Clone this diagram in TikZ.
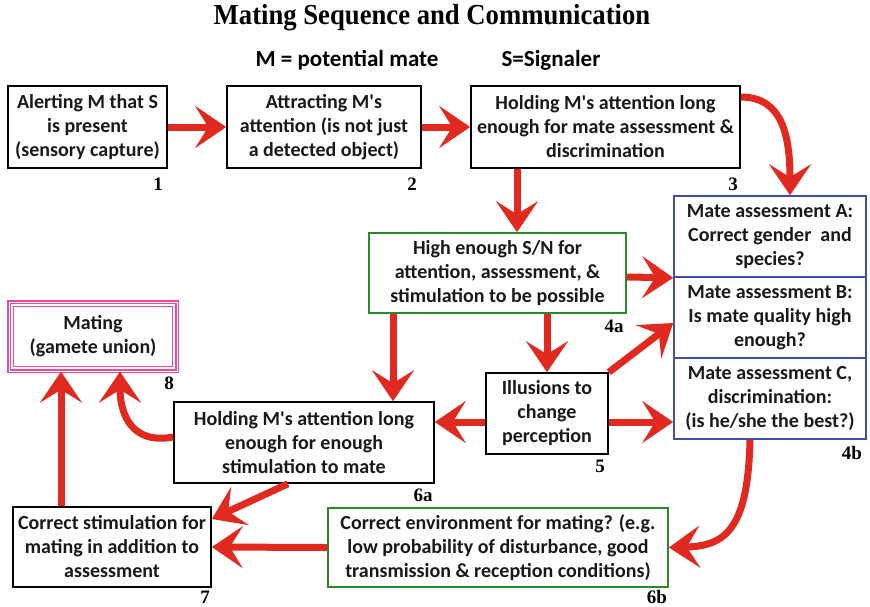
\documentclass[tikz,border=0pt]{standalone}
\usepackage{fontspec}
\setmainfont{Carlito}
\newfontfamily\titlefont{Liberation Serif}
\usetikzlibrary{arrows.meta}
\definecolor{arrred}{HTML}{E2291F}
\definecolor{boxblue}{HTML}{3F4FA8}
\definecolor{boxgreen}{HTML}{2A8A2A}
\definecolor{matepink}{HTML}{E84C9C}
\newcommand{\ap}{\textquotesingle}
\begin{document}
\begin{tikzpicture}[x=1pt,y=-1pt,
  txt/.style={font=\bfseries\fontsize{20}{24}\selectfont, align=center, text=black!90},
  box/.style={txt, draw=black, line width=1.6pt, inner sep=0pt},
  bluebox/.style={box, draw=boxblue},
  greenbox/.style={box, draw=boxgreen},
  lbl/.style={font=\titlefont\bfseries\fontsize{19}{19}\selectfont, inner sep=0pt},
  arr/.style={draw=arrred, line width=7pt, -{Stealth[length=31pt,width=42pt,inset=13pt]}}]
\useasboundingbox (0,0) rectangle (870,606);

\node[font=\titlefont\bfseries\fontsize{29}{29}\selectfont] (title) at (432,18) {\scalebox{0.92}[1]{Mating Sequence and Communication}};
\node[font=\bfseries\fontsize{23}{23}\selectfont] (sub1) at (347,60) {M = potential mate};
\node[font=\bfseries\fontsize{23}{23}\selectfont] (sub2) at (551,60) {S=Signaler};

\node[box, minimum width=159, minimum height=82] (b1) at (87.5,127) {Alerting M that S\\is present\\(sensory capture)};
\node[box, minimum width=194, minimum height=82] (b2) at (324,127) {Attracting M\ap s\\attention (is not just\\a detected object)};
\node[box, minimum width=269, minimum height=82] (b3) at (605.5,127) {Holding M\ap s attention long\\enough for mate assessment \&\\discrimination};
\node[greenbox, minimum width=257, minimum height=80] (b4a) at (497.5,273) {High enough S/N for\\attention, assessment, \&\\stimulation to be possible};
\node[bluebox, minimum width=192, minimum height=81] (bA) at (770,236.5) {Mate assessment A:\\Correct gender\ \ and\\species?};
\node[bluebox, minimum width=192, minimum height=81] (bB) at (770,317.5) {Mate assessment B:\\Is mate quality high\\enough?};
\node[bluebox, minimum width=192, minimum height=81] (bC) at (770,398.5) {Mate assessment C,\\discrimination:\\(is he/she the best?)};
\node[box, minimum width=122, minimum height=81] (b5) at (547,413.5) {Illusions to\\change\\perception};
\node[box, minimum width=260, minimum height=81] (b6a) at (304,442.5) {Holding M\ap s attention long\\enough for enough\\stimulation to mate};
\node[box, draw=matepink, line width=1.3pt, double=white, double distance=1pt, minimum width=168, minimum height=69] (b8) at (93,336.5) {Mating\\(gamete union)};
\draw[matepink, line width=1.3pt] ([shift={(5,5)}]b8.north west) rectangle ([shift={(-5,-5)}]b8.south east);
\node[box, minimum width=198, minimum height=80] (b7) at (112,547) {Correct stimulation for\\mating in addition to\\assessment};
\node[greenbox, minimum width=340, minimum height=79] (b6b) at (498,547.5) {Correct environment for mating? (e.g.\\low probability of disturbance, good\\transmission \& reception conditions)};

\node[lbl] (l1) at (158,184) {1};
\node[lbl] (l2) at (412,184) {2};
\node[lbl] (l3) at (733,184) {3};
\node[lbl] (l4a) at (614,326) {4a};
\node[lbl] (l4b) at (852,453) {4b};
\node[lbl] (l5) at (600,466) {5};
\node[lbl] (l6a) at (423,495) {6a};
\node[lbl] (l6b) at (657,597) {6b};
\node[lbl] (l7) at (205,597) {7};
\node[lbl] (l8) at (169,383) {8};

\draw[arr] (b1.east) -- (b2.west);
\draw[arr] (b2.east) -- (b3.west);
\draw[arr] (b3.east |- 0,97) .. controls (782,97) and (790,135) .. (790,0 |- bA.north);
\draw[arr] (517,0 |- b3.south) -- (517,0 |- b4a.north);
\draw[arr] (b4a.east |- 0,277) -- (bA.south west);
\draw[arr] (547,0 |- b4a.south) -- (547,0 |- b5.north);
\draw[arr] (393,0 |- b4a.south) -- (393,0 |- b6a.north);
\draw[arr] (b5.north east) -- (bB.west |- 0,323);
\draw[arr] (b5.east |- 0,422) -- (bC.west |- 0,422);
\draw[arr] (b5.west |- 0,422) -- (b6a.east |- 0,422);
\draw[arr] (b6a.west |- 0,437) .. controls (130,445) and (120,412) .. (120,0 |- b8.south);
\draw[arr] (61,0 |- b7.north) -- (61,0 |- b8.south);
\draw[arr] (288,0 |- b6a.south) -- (b7.east |- 0,519);
\draw[arr] (b6b.west) -- (b7.east);
\draw[arr] (750,0 |- bC.south) .. controls (748,530) and (725,546) .. (b6b.east);
\end{tikzpicture}
\end{document}
